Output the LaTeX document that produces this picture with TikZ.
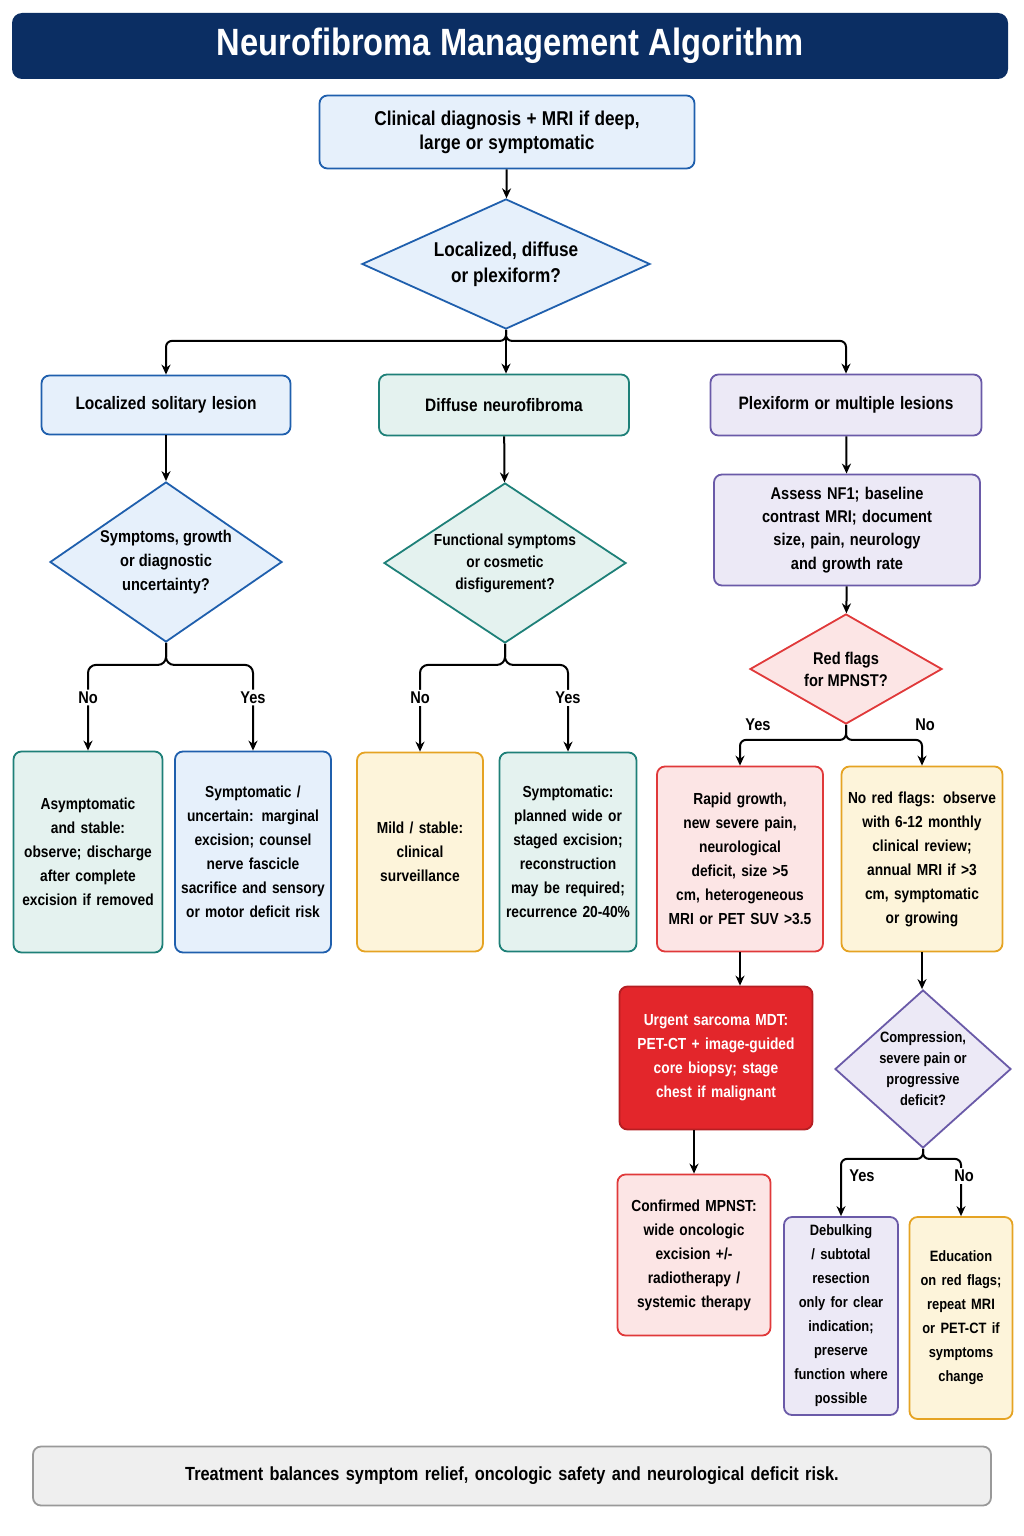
\documentclass[tikz,border=0pt]{standalone}
\usepackage{fontspec}
\setmainfont{Liberation Sans}[FakeStretch=0.86]
\usetikzlibrary{shapes.geometric,arrows.meta}
\hyphenpenalty=10000
\exhyphenpenalty=10000
\definecolor{navy}{HTML}{0B2E63}
\definecolor{bluel}{HTML}{1F5FAD}\definecolor{bluef}{HTML}{E6F0FB}
\definecolor{teall}{HTML}{1E8078}\definecolor{tealf}{HTML}{E4F2EF}
\definecolor{purl}{HTML}{6A5AA8}\definecolor{purf}{HTML}{ECE9F6}
\definecolor{yell}{HTML}{E5A323}\definecolor{yelf}{HTML}{FDF4DA}
\definecolor{redl}{HTML}{E0393A}\definecolor{redf}{HTML}{FCE5E5}
\definecolor{redd}{HTML}{E3262B}\definecolor{grayf}{HTML}{EFEFEF}
\tikzset{
  box/.style={draw, line width=1.8pt, rounded corners=8pt, align=center,
    font=\fontsize{16}{24}\selectfont\bfseries, inner sep=4pt},
  dia/.style={diamond, draw, line width=1.8pt, align=center,
    font=\fontsize{16}{22}\selectfont\bfseries, inner sep=0pt},
  blue/.style={draw=bluel, fill=bluef},
  teal/.style={draw=teall, fill=tealf},
  purple/.style={draw=purl, fill=purf},
  yellow/.style={draw=yell, fill=yelf},
  red/.style={draw=redl, fill=redf},
  arr/.style={-{Stealth[length=10pt,width=9pt]}, line width=2pt},
  lab/.style={fill=white, font=\fontsize{17}{20}\selectfont\bfseries, inner sep=2pt}
}
\newcommand{\bx}[5]{% name, colour style, centre, width, height
  \node[box,#2,minimum width=#4, minimum height=#5, text width=#4-12pt] (#1) at #3}
\begin{document}
\begin{tikzpicture}[x=1pt,y=-1pt]
\useasboundingbox (0,0) rectangle (1024,1536);
% title
\node[fill=navy, rounded corners=10pt, minimum width=996pt, minimum height=66pt,
  text=white, font=\fontsize{38}{40}\selectfont\bfseries] (title) at (510,46)
  {Neurofibroma Management Algorithm};
% top
\bx{clin}{blue}{(507,132)}{375pt}{73pt}{\fontsize{20}{26}\selectfont Clinical diagnosis + MRI if deep,\\ large or symptomatic};
\node[dia,blue,minimum width=288pt,minimum height=130pt,aspect=2.2,font=\fontsize{20}{26}\selectfont\bfseries] (type) at (506,264) {Localized, diffuse\\ or plexiform?};
% three branches
\bx{loc}{blue}{(166,405)}{249pt}{59pt}{\fontsize{18}{22}\selectfont Localized solitary lesion};
\bx{dif}{teal}{(504,405)}{250pt}{61pt}{\fontsize{18}{22}\selectfont Diffuse neurofibroma};
\bx{plx}{purple}{(846,405)}{271pt}{61pt}{\fontsize{18}{22}\selectfont Plexiform or multiple lesions};
\node[dia,blue,minimum width=232pt,minimum height=160pt,aspect=1.45,font=\fontsize{17}{24}\selectfont\bfseries] (sym) at (166,562) {Symptoms, growth\\ or diagnostic\\ uncertainty?};
\node[dia,teal,minimum width=242pt,minimum height=160pt,aspect=1.5] (fun) at (505,563) {Functional symptoms\\ or cosmetic\\ disfigurement?};
\bx{nf1}{purple}{(847,530)}{266pt}{111pt}{\fontsize{17}{23}\selectfont Assess NF1; baseline\\ contrast MRI; document\\ size, pain, neurology\\ and growth rate};
\node[dia,red,minimum width=192pt,minimum height=110pt,aspect=1.75,font=\fontsize{17}{22}\selectfont\bfseries] (flag) at (846,669) {Red flags\\ for MPNST?};
% leaves
\bx{asy}{teal}{(88,852)}{149pt}{201pt}{Asymptomatic and stable: observe; discharge after complete excision if removed};
\bx{mar}{blue}{(253,852)}{156pt}{201pt}{Symptomatic / uncertain: marginal excision; counsel nerve fascicle sacrifice and sensory or motor deficit risk};
\bx{mild}{yellow}{(420,852)}{126pt}{199pt}{Mild / stable: clinical surveillance};
\bx{wide}{teal}{(568,852)}{137pt}{199pt}{Symptomatic: planned wide or staged excision; reconstruction may be required; recurrence 20-40\%};
\bx{rap}{red}{(740,859)}{166pt}{185pt}{Rapid growth, new severe pain, neurological deficit, size >5 cm, heterogeneous MRI or PET SUV >3.5};
\bx{obs}{yellow}{(922,859)}{161pt}{185pt}{No red flags: observe with 6-12 monthly clinical review; annual MRI if >3 cm, symptomatic or growing};
\node[box,fill=redd,draw=redd!80!black,text=white,minimum width=193pt,minimum height=143pt,text width=180pt] (mdt) at (716,1058) {Urgent sarcoma MDT: PET-CT + image-guided core biopsy; stage chest if malignant};
\bx{conf}{red}{(694,1255)}{153pt}{161pt}{Confirmed MPNST: wide oncologic excision +/- radiotherapy / systemic therapy};
\node[dia,purple,minimum width=176pt,minimum height=158pt,aspect=1.1,font=\fontsize{15}{21}\selectfont\bfseries] (comp) at (923,1069) {Compression,\\ severe pain or\\ progressive\\ deficit?};
\bx{deb}{purple}{(841,1316)}{114pt}{198pt}{\fontsize{15}{21.5}\selectfont Debulking / subtotal resection only for clear indication; preserve function where possible};
\bx{edu}{yellow}{(961,1318)}{103pt}{202pt}{\fontsize{15}{23}\selectfont Education on red flags; repeat MRI or PET-CT if symptoms change};
% footer
\node[box,draw=gray!80,fill=grayf,minimum width=958pt,minimum height=59pt,text width=940pt,font=\fontsize{19}{22}\selectfont\bfseries] (foot) at (512,1476) {Treatment balances symptom relief, oncologic safety and neurological deficit risk.};
% connectors
\draw[arr] (clin) -- (type);
\draw[arr,rounded corners=6pt] (type.south) -- ++(0,11) -| (loc.north);
\draw[arr] (type.south) -- (dif.north-|type.south);
\draw[arr,rounded corners=6pt] (type.south) -- ++(0,11) -| (plx.north);
\draw[arr] (loc) -- (sym);
\draw[arr] (dif) -- (fun);
\draw[arr] (plx) -- (nf1);
\draw[arr] (nf1) -- (flag);
\draw[arr,rounded corners=8pt] (sym.south) -- ++(0,22) -| node[lab,pos=0.69] {No} (asy.north);
\draw[arr,rounded corners=8pt] (sym.south) -- ++(0,22) -| node[lab,pos=0.69] {Yes} (mar.north);
\draw[arr,rounded corners=8pt] (fun.south) -- ++(0,21) -| node[lab,pos=0.69] {No} (mild.north);
\draw[arr,rounded corners=8pt] (fun.south) -- ++(0,21) -| node[lab,pos=0.69] {Yes} (wide.north);
\draw[arr,rounded corners=6pt] (flag.south) -- ++(0,15) -| (rap.north);
\draw[arr,rounded corners=6pt] (flag.south) -- ++(0,15) -| (obs.north);
\node[lab] (fy) at (758,725) {Yes};
\node[lab] (fn) at (925,725) {No};
\draw[arr] (rap) -- (rap|-mdt.north);
\draw[arr] (obs) -- (obs|-comp.north);
\draw[arr] (mdt.south-|694,0) -- (conf);
\draw[arr,rounded corners=6pt] (comp.south) -- ++(0,10) -| (deb.north);
\draw[arr,rounded corners=6pt] (comp.south) -- ++(0,10) -| (edu.north);
\node[lab] (cy) at (862,1176) {Yes};
\node[lab] (cn) at (964,1176) {No};
\end{tikzpicture}
\end{document}
